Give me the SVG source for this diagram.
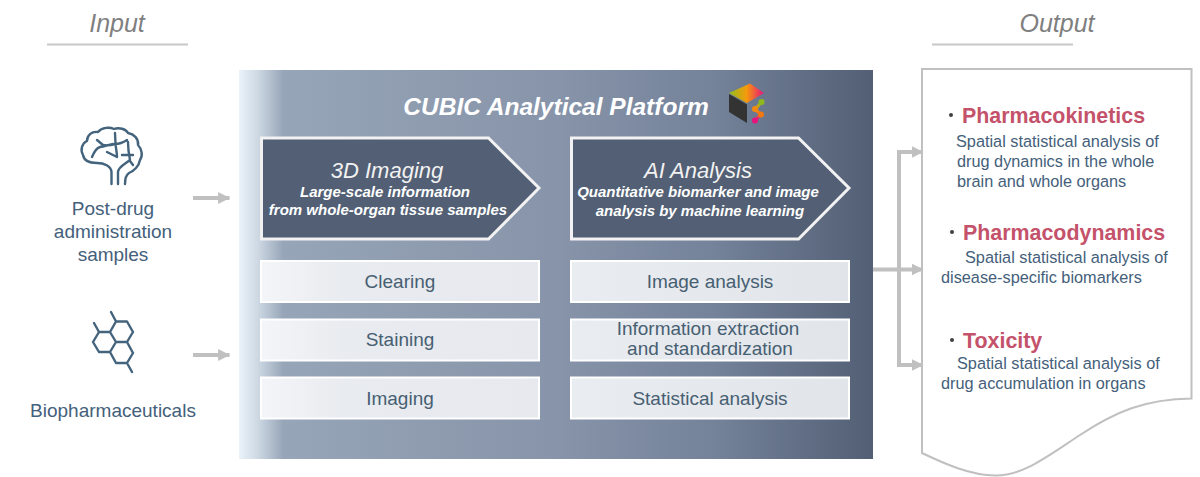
<svg xmlns="http://www.w3.org/2000/svg" width="1200" height="477" viewBox="0 0 1200 477">
<defs>
<linearGradient id="panel" x1="0" x2="1" y1="0" y2="0">
<stop offset="0" stop-color="#eaf2fa"/><stop offset="0.03" stop-color="#cdd8e3"/><stop offset="0.07" stop-color="#97a5b8"/><stop offset="0.5" stop-color="#8794a9"/><stop offset="0.75" stop-color="#74829a"/><stop offset="1" stop-color="#525f74"/>
</linearGradient>
<linearGradient id="box" x1="0" x2="1" y1="0" y2="0"><stop offset="0" stop-color="#f4f5f8"/><stop offset="0.3" stop-color="#e8ebef"/><stop offset="1" stop-color="#e7e9ee"/></linearGradient>
<linearGradient id="box2" x1="0" x2="1" y1="0" y2="0"><stop offset="0" stop-color="#e9ecf0"/><stop offset="1" stop-color="#e1e4e9"/></linearGradient>
<linearGradient id="cubetop" x1="0" x2="1" y1="0" y2="0"><stop offset="0" stop-color="#8fc01c"/><stop offset="0.5" stop-color="#f59a0c"/><stop offset="1" stop-color="#e8127c"/></linearGradient>
<linearGradient id="nodes" x1="0" x2="0" y1="0" y2="1"><stop offset="0" stop-color="#8fc01c"/><stop offset="0.5" stop-color="#f58a10"/><stop offset="1" stop-color="#e8127c"/></linearGradient>
<marker id="ah" viewBox="0 0 10 10" refX="9.500" refY="5" markerWidth="12" markerHeight="12" markerUnits="userSpaceOnUse" orient="auto"><path d="M0 0L10 5L0 10Z" fill="#c0c0c0"/></marker>
</defs>
<style>
text{font-family:"Liberation Sans",Arial,sans-serif}
.head{font-size:25px;font-style:italic;fill:#7f7f7f;text-anchor:middle}
.lab{font-size:19px;fill:#44607a;text-anchor:middle}
.step{font-size:19px;fill:#475f72;text-anchor:middle}
.chev{fill:#525f74;stroke:#f2f2f2;stroke-width:3}
.big{font-size:22px;font-style:italic;fill:#f2f2f2;text-anchor:middle}
.sub{font-size:15px;font-style:italic;font-weight:bold;fill:#fff;text-anchor:middle}
.rb{stroke:#fff;stroke-width:2}
.red{font-size:21.400px;font-weight:bold;fill:#c4526a}
.desc{font-size:16.300px;fill:#44607a}
.dot{fill:#404040}
.ic{fill:none;stroke:#44637c;stroke-width:2.400;stroke-linecap:round;stroke-linejoin:round}
.conn{fill:none;stroke:#c0c0c0;stroke-width:4}
</style>
<g id="input-header"><text class="head" x="117" y="32">Input</text><rect x="47" y="43.500" width="141" height="2" fill="#c8c8c8"/></g>
<g id="output-header"><text class="head" x="1057" y="32">Output</text><rect x="932" y="43.500" width="141" height="2" fill="#c8c8c8"/></g>

<g id="platform">
<rect x="239" y="70" width="634" height="389" fill="url(#panel)"/>
<text x="556" y="115" font-size="24.500" font-style="italic" font-weight="bold" fill="#fff" text-anchor="middle">CUBIC Analytical Platform</text>
<path d="M729 93L750 83.500L764 93L747 103Z" fill="url(#cubetop)"/>
<path d="M729 94L747 104.500V123L729 112Z" fill="#333"/>
<path d="M761.500 102L755 109.500L761 114.500L755 120" fill="none" stroke="url(#nodes)" stroke-width="3"/>
<circle cx="761.500" cy="102" r="3" fill="#8fb81c"/><circle cx="755" cy="109" r="3" fill="#f58a10"/><circle cx="761" cy="114.500" r="3" fill="#f5780f"/><circle cx="755" cy="120.500" r="3" fill="#e8127c"/>
</g>

<g id="sample-brain">
<g class="ic">
<path d="M111.500 184V172C111 166 104 163 97 163C90 163 84 161 83 155C80 150 82 143 87 141C87 135 92 131 98 132C102 127 110 127 114 129C119 127 126 129 128 133C134 134 139 139 138 145C142 149 143 156 140 160C139 166 134 171 129 173C126 175 125 179 125 184"/>
<path d="M118 184V172C118 167 125 164 130 160M128 142C128 150 129 155 130 160M130 161L133 165M97 140L103 145C108 146 112 145 115 144C120 144 124 142 127 140M115 133L115.500 144M115.500 144C116 149 117 153 117 157M107 152L117 157M92 157C94 152 97 148 100 147C105 146 108 145 113 144M122 155H133"/>
</g>
<text class="lab" x="113" y="215">Post-drug</text><text class="lab" x="113" y="238">administration</text><text class="lab" x="113" y="261">samples</text>
</g>
<g id="sample-biopharma">
<g class="ic" stroke-width="2.200"><path d="M99 332H110L116 342L110 352H99L93 342ZM110 332L116 321.500H127L133 332L127 342H116M116 342L110 352L116 363H127L133 353L127 342M99 332L94 323M116 321.500L111 312M127 363L132 372"/></g>
<text class="lab" x="113" y="417">Biopharmaceuticals</text>
</g>

<g id="chev-3d"><path class="chev" d="M261.500 138H488.500L539 188L488.500 239H261.500Z"/><text class="big" x="387" y="178">3D Imaging</text><text class="sub" x="385" y="197">Large-scale information</text><text class="sub" x="388" y="215">from whole-organ tissue samples</text></g>
<g id="chev-ai"><path class="chev" d="M571.500 138H798.500L849 188L798.500 239H571.500Z"/><text class="big" x="698" y="178">AI Analysis</text><text class="sub" x="698" y="197">Quantitative biomarker and image</text><text class="sub" x="700" y="216">analysis by machine learning</text></g>

<g id="step-clearing"><rect class="rb" x="261" y="261" width="278" height="41" fill="url(#box)"/><text class="step" x="400" y="288">Clearing</text></g>
<g id="step-staining"><rect class="rb" x="261" y="319.500" width="278" height="41" fill="url(#box)"/><text class="step" x="400" y="346">Staining</text></g>
<g id="step-imaging"><rect class="rb" x="261" y="377.500" width="278" height="41" fill="url(#box)"/><text class="step" x="400" y="405">Imaging</text></g>
<g id="step-image-analysis"><rect class="rb" x="571" y="261" width="278" height="41" fill="url(#box2)"/><text class="step" x="710" y="288">Image analysis</text></g>
<g id="step-info"><rect class="rb" x="571" y="319.500" width="278" height="41" fill="url(#box2)"/><text class="step" x="708" y="335">Information extraction</text><text class="step" x="710" y="355">and standardization</text></g>
<g id="step-stat"><rect class="rb" x="571" y="377.500" width="278" height="41" fill="url(#box2)"/><text class="step" x="710" y="405">Statistical analysis</text></g>

<g id="output-doc">
<path d="M922 69H1191.500V398.500C1145 399 1115 412 1080 435C1045 458 1022 476 995 475.500C970 475 945 464 922 453Z" fill="#fff" stroke="#c0c0c0" stroke-width="2"/>
<circle class="dot" cx="951" cy="115" r="2"/><text class="red" x="962" y="123">Pharmacokinetics</text>
<text class="desc" x="956" y="147">Spatial statistical analysis of</text><text class="desc" x="957" y="167">drug dynamics in the whole</text><text class="desc" x="957" y="187">brain and whole organs</text>
<circle class="dot" cx="952" cy="232" r="2"/><text class="red" x="963" y="240">Pharmacodynamics</text>
<text class="desc" x="965" y="263">Spatial statistical analysis of</text><text class="desc" x="941" y="283">disease-specific biomarkers</text>
<circle class="dot" cx="952" cy="340" r="2"/><text class="red" x="963" y="348">Toxicity</text>
<text class="desc" x="957" y="369">Spatial statistical analysis of</text><text class="desc" x="941" y="389">drug accumulation in organs</text>
</g>

<g id="connectors">
<path class="conn" marker-end="url(#ah)" d="M193 198H229.500"/>
<path class="conn" marker-end="url(#ah)" d="M193 355H229.500"/>
<path class="conn" marker-end="url(#ah)" d="M873 269.500H923"/>
<path class="conn" marker-end="url(#ah)" d="M899 269.500V152H923"/>
<path class="conn" marker-end="url(#ah)" d="M899 269.500V365H923"/>
</g>
</svg>
